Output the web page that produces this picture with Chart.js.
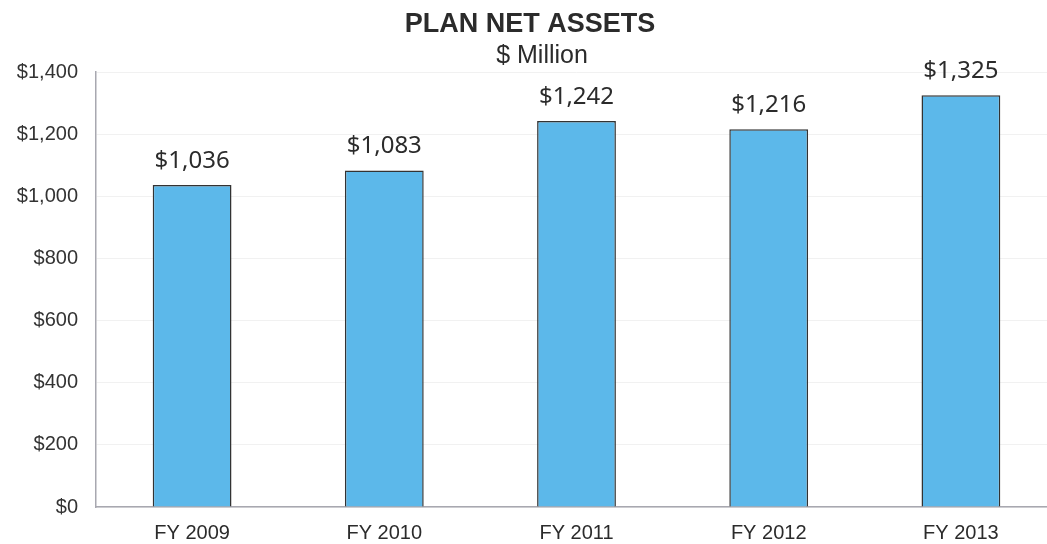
<!DOCTYPE html>
<html>
<head>
<meta charset="utf-8">
<script src="https://cdn.jsdelivr.net/npm/chart.js@4/dist/chart.umd.min.js"></script>
<style>
  html, body { margin: 0; padding: 0; background: #fff; overflow: hidden; }
  /* plot runs a little past the right edge of the window, as in the source */
  #wrap { width: 1057px; height: 544px; }
</style>
</head>
<body>
<div id="wrap"><canvas id="chart"></canvas></div>
<script>
// Plan net assets, $ million
const years = ['FY 2009', 'FY 2010', 'FY 2011', 'FY 2012', 'FY 2013'];
const netAssets = [1036, 1083, 1242, 1216, 1325];
const yTicks = [0, 200, 400, 600, 800, 1000, 1200, 1400];

const money = v => '$' + v.toLocaleString('en-US');

// title, subtitle and the value labels above each bar
const labelsPlugin = {
  id: 'labels',
  afterDatasetsDraw(chart) {
    const ctx = chart.ctx;
    ctx.save();
    ctx.fillStyle = '#2b2b2b';
    ctx.textAlign = 'center';
    ctx.textBaseline = 'alphabetic';

    ctx.font = 'bold 27px "Liberation Sans", Arial, sans-serif';
    ctx.fillText('PLAN NET ASSETS', 530, 32);
    ctx.font = '25px "Liberation Sans", Arial, sans-serif';
    ctx.fillText('$ Million', 542, 63);

    ctx.font = '24px "Noto Sans", "Open Sans", sans-serif';
    chart.getDatasetMeta(0).data.forEach((bar, i) => {
      ctx.fillText(money(netAssets[i]), bar.x, bar.y - 17);
    });
    ctx.restore();
  }
};

new Chart(document.getElementById('chart'), {
  type: 'bar',
  data: {
    labels: years,
    datasets: [{
      data: netAssets,
      backgroundColor: '#5cb8ea',
      borderColor: '#333333',
      borderWidth: 1.5,
      barPercentage: 0.41,
      categoryPercentage: 1
    }]
  },
  options: {
    responsive: true,
    maintainAspectRatio: false,
    animation: false,
    layout: { padding: { top: 72, right: 0, bottom: 0, left: 0 } },
    plugins: {
      legend: { display: false },
      tooltip: { enabled: false }
    },
    scales: {
      x: {
        afterFit(scale) { scale.height = 37; },
        grid: { display: false, drawTicks: false },
        border: { display: true, color: '#a8a8b0', width: 1.5 },
        ticks: {
          color: '#2b2b2b',
          padding: 14,
          font: { family: '"Liberation Sans", Arial, sans-serif', size: 20 }
        }
      },
      y: {
        min: 0,
        max: 1400,
        afterFit(scale) { scale.width = 96; },
        afterBuildTicks(scale) { scale.ticks = yTicks.map(v => ({ value: v })); },
        grid: { color: '#f1f1f1', drawTicks: false },
        border: { display: true, color: '#a8a8b0', width: 1.5 },
        ticks: {
          color: '#333333',
          padding: 18,
          callback: v => money(v),
          font: { family: '"Liberation Sans", Arial, sans-serif', size: 20 }
        }
      }
    }
  },
  plugins: [labelsPlugin]
});
</script>
</body>
</html>
